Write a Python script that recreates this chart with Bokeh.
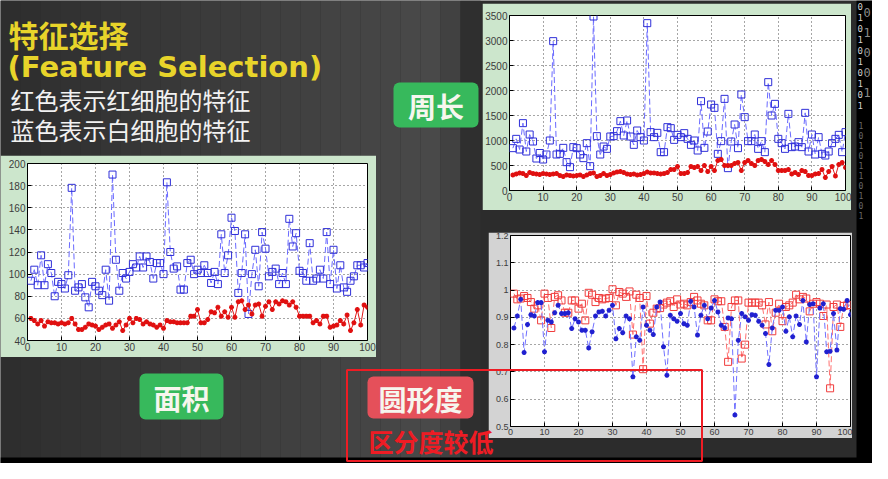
import numpy as np
from bokeh.plotting import figure
from bokeh.models import (GridBox, Range1d, FixedTicker, NumeralTickFormatter,
                          Label, BoxAnnotation)
from bokeh.core.properties import value
from bokeh.embed import file_html
from bokeh.resources import INLINE

# ---------------- data ----------------
idx = list(range(1, 101))

area_white = [94, 104, 90, 117, 90, 109, 101, 80, 93, 91, 87, 99, 178, 85, 88, 91, 79, 70, 93, 89,
              85, 81, 104, 76, 190, 113, 85, 101, 96, 102, 109, 106, 116, 106, 116, 111, 96, 110, 110, 100,
              183, 120, 105, 107, 86, 86, 110, 113, 100, 104, 101, 108, 101, 92, 102, 91, 136, 101, 117, 151,
              139, 83, 101, 136, 64, 100, 122, 89, 138, 123, 98, 102, 105, 91, 101, 91, 150, 125, 137, 103,
              101, 94, 128, 94, 96, 104, 96, 138, 91, 122, 87, 108, 88, 84, 94, 98, 108, 108, 106, 110]
area_red = [60, 58, 55, 58, 53, 57, 56, 56, 55, 56, 55, 56, 60, 55, 50, 50, 52, 55, 54, 53,
            50, 52, 54, 55, 51, 54, 57, 49, 54, 60, 56, 60, 59, 55, 57, 55, 54, 52, 54, 51,
            58, 57, 57, 56, 56, 56, 56, 62, 62, 68, 56, 56, 59, 66, 65, 70, 62, 66, 61, 70,
            61, 75, 76, 68, 72, 64, 72, 73, 62, 71, 75, 68, 75, 73, 76, 75, 72, 75, 70, 62,
            62, 62, 62, 56, 58, 55, 62, 62, 52, 53, 54, 58, 55, 63, 49, 56, 68, 54, 72, 70]

perim_white = [847, 1033, 820, 1347, 780, 1120, 980, 640, 750, 620, 720, 1000, 2987, 720, 733, 853, 567, 467, 867, 847,
               720, 647, 947, 487, 3480, 1087, 720, 880, 833, 1080, 1087, 1187, 1387, 1100, 1400, 1080, 913, 1200, 1067, 1000,
               3347, 1167, 1067, 1153, 767, 767, 1267, 1247, 1013, 1113, 1067, 1147, 1033, 913, 1000, 800, 1787, 853, 1180, 1720,
               1653, 733, 987, 1833, 447, 980, 1320, 847, 1920, 1467, 987, 987, 1120, 833, 987, 767, 2167, 1500, 1733, 1033,
               947, 833, 1533, 867, 880, 967, 867, 1553, 780, 1120, 720, 1067, 733, 700, 780, 947, 1033, 1113, 767, 1167]
perim_red = [310, 330, 350, 340, 300, 360, 340, 330, 320, 340, 330, 320, 330, 340, 300, 280, 310, 300, 290, 300,
             310, 280, 310, 340, 350, 280, 300, 340, 300, 320, 350, 370, 380, 360, 330, 320, 330, 310, 320, 340,
             370, 350, 350, 340, 330, 340, 360, 420, 420, 480, 340, 340, 360, 480, 460, 480, 400, 500, 380, 480,
             400, 600, 620, 500, 500, 500, 540, 560, 400, 560, 600, 540, 500, 600, 620, 580, 520, 600, 520, 400,
             400, 400, 420, 330, 360, 320, 400, 380, 300, 300, 330, 340, 420, 260, 380, 480, 290, 520, 560, 460]

circ_red = [0.987, 0.966, 0.969, 0.978, 0.971, 0.956, 0.932, 0.944, 0.889, 0.987, 0.971, 0.861, 0.975, 0.981, 0.962, 0.917, 0.917, 0.962, 0.962, 0.932,
            0.950, 0.889, 0.990, 0.983, 0.956, 0.971, 0.966, 0.969, 0.971, 1.003, 0.944, 0.993, 0.987, 0.975, 0.995, 0.837, 0.983, 0.971, 0.710, 0.978,
            0.877, 0.917, 0.932, 0.934, 0.947, 0.954, 0.959, 0.938, 0.966, 0.947, 0.950, 0.944, 0.956, 0.975, 0.962, 0.950, 0.944, 0.889, 0.889, 0.966,
            0.959, 0.959, 0.865, 0.737, 0.938, 0.962, 0.962, 0.749, 0.800, 0.954, 0.954, 0.954, 0.954, 0.944, 0.874, 0.956, 0.849, 0.917, 0.950, 0.886,
            0.938, 0.944, 0.954, 0.983, 0.966, 0.975, 0.969, 0.922, 0.950, 0.956, 0.950, 0.905, 0.947, 0.640, 0.938, 0.947, 0.865, 0.942, 0.944, 0.945]
circ_white = [0.861, 0.905, 0.966, 0.771, 0.874, 0.910, 0.905, 0.954, 0.954, 0.774, 0.889, 0.883, 0.917, 0.944, 0.914, 0.914, 0.917, 0.859, 0.895, 0.883,
              0.853, 0.853, 0.788, 0.847, 0.905, 0.920, 0.922, 0.905, 0.926, 0.944, 0.822, 0.859, 0.844, 0.905, 0.895, 0.682, 0.829, 0.816, 0.938, 0.871,
              0.853, 0.837, 0.938, 0.956, 0.792, 0.688, 0.908, 0.895, 0.886, 0.914, 0.877, 0.871, 0.959, 0.938, 0.835, 0.908, 0.944, 0.895, 0.934, 0.962,
              0.920, 0.871, 0.861, 0.898, 0.895, 0.542, 0.816, 0.914, 0.902, 0.889, 0.910, 0.908, 0.886, 0.871, 0.841, 0.727, 0.861, 0.926, 0.926, 0.938,
              0.849, 0.902, 0.829, 0.905, 0.874, 0.962, 0.810, 0.947, 0.950, 0.682, 0.934, 0.950, 0.774, 0.776, 0.914, 0.780, 0.932, 0.930, 0.962, 0.910]

x_ticks = [0, 10, 20, 30, 40, 50, 60, 70, 80, 90, 100]
area_ticks = [40, 60, 80, 100, 120, 140, 160, 180, 200]
perim_ticks = [0, 500, 1000, 1500, 2000, 2500, 3000, 3500]
circ_ticks = [0.5, 0.6, 0.7, 0.8, 0.9, 1.0, 1.1, 1.2]

title_cn = "特征选择"
title_en = "(Feature Selection)"
note_red = "红色表示红细胞的特征"
note_blue = "蓝色表示白细胞的特征"
lab_area = "面积"
lab_perim = "周长"
lab_circ = "圆形度"
lab_low = "区分度较低"

CJK = "Noto Sans CJK SC"


def matlab_fig(w, h, yr, yt, border, mb, fs):
    p = figure(width=w, height=h, x_range=Range1d(0, 100), y_range=Range1d(*yr),
               output_backend="svg", toolbar_location=None,
               min_border_left=mb[0], min_border_right=mb[1],
               min_border_top=mb[2], min_border_bottom=mb[3],
               border_fill_color=border, background_fill_color="white",
               outline_line_color="black", outline_line_width=1, align="start")
    xt = FixedTicker(ticks=x_ticks)
    ytk = FixedTicker(ticks=yt)
    p.xaxis.ticker = xt
    p.yaxis.ticker = ytk
    p.xgrid.ticker = xt
    p.ygrid.ticker = ytk
    for ax in (p.xaxis[0], p.yaxis[0]):
        ax.axis_line_color = None
        ax.major_tick_in = 4
        ax.major_tick_out = 0
        ax.major_tick_line_color = "black"
        ax.minor_tick_line_color = None
        ax.major_label_text_font = "Liberation Sans"
        ax.major_label_text_font_size = f"{fs}px"
        ax.major_label_text_color = "#3c3c3c"
        ax.major_label_standoff = 2
    p.grid.grid_line_color = "#222222"
    p.grid.grid_line_dash = "1 3"
    p.grid.grid_line_alpha = 0.8
    return p


# ---------- plot 1 : area ----------
p1 = matlab_fig(376, 202, (40, 200), area_ticks, "#cce6cc", (27, 9, 8, 17), 10)
p1.line(idx, area_white, line_color="#6a6aff", line_dash="6 3", line_width=1)
p1.scatter(idx, area_white, marker="square", size=7, fill_color=None,
           line_color="#2f2fd8", line_width=1)
p1.line(idx, area_red, line_color="#e01818", line_width=1)
p1.scatter(idx, area_red, marker="asterisk", size=5, line_color="#e01010", line_width=1.5)

# ---------- plot 2 : perimeter ----------
p2 = matlab_fig(369, 207, (0, 3500), perim_ticks, "#cce6cc", (25, 6, 12, 20), 10)
p2.line(idx, perim_white, line_color="#6a6aff", line_dash="6 3", line_width=1)
p2.scatter(idx, perim_white, marker="square", size=7, fill_color=None,
           line_color="#2f2fd8", line_width=1)
p2.line(idx, perim_red, line_color="#e01818", line_width=1)
p2.scatter(idx, perim_red, marker="asterisk", size=5, line_color="#e01010", line_width=1.5)

# ---------- plot 3 : circularity ----------
p3 = matlab_fig(364, 206, (0.5, 1.2), circ_ticks, "#d3d3d3", (22, 2, 3, 12), 9)
p3.yaxis.formatter = NumeralTickFormatter(format="0.[0]")
p3.line(idx, circ_red, line_color="#ff7070", line_dash="6 3", line_width=1)
p3.scatter(idx, circ_red, marker="square", size=7, fill_color=None,
           line_color="#f03c3c", line_width=1)
p3.line(idx, circ_white, line_color="#7070ff", line_dash="6 3", line_width=1)
p3.scatter(idx, circ_white, marker="asterisk", size=5, line_color="#2020d0", line_width=1.5)

# ---------- background slide ----------
W, H = 872, 463
bg = figure(width=W, height=H, x_range=Range1d(0, W), y_range=Range1d(H, 0),
            output_backend="svg", toolbar_location=None, min_border=0,
            x_axis_location=None, y_axis_location=None,
            background_fill_color="#2c2c2c", border_fill_color="#2c2c2c",
            outline_line_color=None, align="start")
bg.grid.visible = False

# horizontal gradient bands on the left part of the slide
band_edges = np.linspace(0, 480, 25)
lv = []
for i in range(24):
    xm = (band_edges[i] + band_edges[i + 1]) / 2
    g = 46 + 28 * min(xm, 440) / 440 if xm < 440 else 74 - 36 * (xm - 440) / 40
    lv.append(int(g))
band_cols = ["#%02x%02x%02x" % (g, g, g) for g in lv]
bg.quad(left=band_edges[:-1], right=band_edges[1:], top=0, bottom=H,
        fill_color=band_cols, line_color=None)
# right black strip and bottom black strip
bg.quad(left=856, right=W, top=0, bottom=H, fill_color="black", line_color=None)
bg.quad(left=0, right=W, top=457, bottom=H, fill_color="black", line_color=None)

# binary digit decoration on the right edge
d1 = list("0101010101")
bg.text(x=[857] * len(d1), y=list(np.arange(len(d1)) * 11 + 6), text=d1,
        text_font=value("DejaVu Sans Mono"), text_font_size="9px",
        text_color="#cfcfcf", text_baseline="middle")
d2 = list("01001")
bg.text(x=[863] * len(d2), y=list(np.arange(len(d2)) * 20 + 12), text=d2,
        text_font=value("DejaVu Sans Mono"), text_font_size="12px",
        text_color="#8a8a8a", text_baseline="middle")
d3 = list("1010110101")
bg.text(x=[858] * len(d3), y=list(np.arange(len(d3)) * 10 + 125), text=d3,
        text_font=value("DejaVu Sans Mono"), text_font_size="8px",
        text_color="#6a6a6a", text_baseline="middle")

# titles
bg.add_layout(Label(x=8, y=33, text=title_cn, text_font=CJK, text_font_size="30px",
                    text_font_style="bold", text_color="#e8d42a", text_baseline="middle"))
bg.add_layout(Label(x=7, y=66, text=title_en, text_font="DejaVu Sans", text_font_size="29px",
                    text_font_style="bold", text_color="#e8d42a", text_baseline="middle"))
bg.add_layout(Label(x=10, y=99, text=note_red, text_font=CJK, text_font_size="24px",
                    text_color="#f2f2f2", text_baseline="middle"))
bg.add_layout(Label(x=10, y=129, text=note_blue, text_font=CJK, text_font_size="24px",
                    text_color="#f2f2f2", text_baseline="middle"))


# coloured tags
def tag(fig, l, r, t, b, color, txt, fs):
    fig.add_layout(BoxAnnotation(left=l, right=r, top=t, bottom=b, fill_color=color,
                                 fill_alpha=1, line_color=None, border_radius=6))
    fig.add_layout(Label(x=(l + r) / 2, y=(t + b) / 2 + 1, text=txt, text_font=CJK,
                         text_font_size=fs, text_font_style="bold", text_color="#f6f6ee",
                         text_align="center", text_baseline="middle"))


tag(bg, 393, 478, 82, 127, "#37b95c", lab_perim, "28px")
tag(bg, 139, 223, 373, 419, "#37b95c", lab_area, "28px")

# ---------- overlay with the red frame (page offset 345, 368) ----------
OX, OY = 345, 368
OW, OH = 358, 94
ov = figure(width=OW, height=OH, x_range=Range1d(0, OW), y_range=Range1d(OH, 0),
            output_backend="svg", toolbar_location=None, min_border=0,
            x_axis_location=None, y_axis_location=None,
            background_fill_color=None, border_fill_color=None,
            outline_line_color=None, align="start")
ov.grid.visible = False
ov.add_layout(BoxAnnotation(left=1.5, right=OW - 1.5, top=1.5, bottom=OH - 1.5, fill_color=None,
                            fill_alpha=0, line_color="#ee1c24", line_alpha=1.0, line_width=2))
tag(ov, 367 - OX, 473 - OX, 376 - OY, 418 - OY, "#e5505a", lab_circ, "28px")
ov.add_layout(Label(x=368 - OX, y=440 - OY, text=lab_low, text_font=CJK, text_font_size="25px",
                    text_font_style="bold", text_color="#ee1c24", text_baseline="middle"))

# grid tracks: every figure edge gets its own boundary (no shared frame alignment)
cols = ["0px", "345px", "31px", "106px", "6px", "215px", "148px", "1px", "20px"]
rows = ["3px", "152px", "55px", "22px", "125px", "11px", "70px", "24px", "1px"]
grid = GridBox(children=[(bg, 0, 0, 9, 9), (p2, 1, 4, 2, 3), (p1, 2, 1, 3, 2),
                         (p3, 4, 5, 3, 3), (ov, 6, 2, 2, 4)],
               rows=rows, cols=cols, spacing=0)

open("out.html", "w").write(file_html(grid, INLINE))
